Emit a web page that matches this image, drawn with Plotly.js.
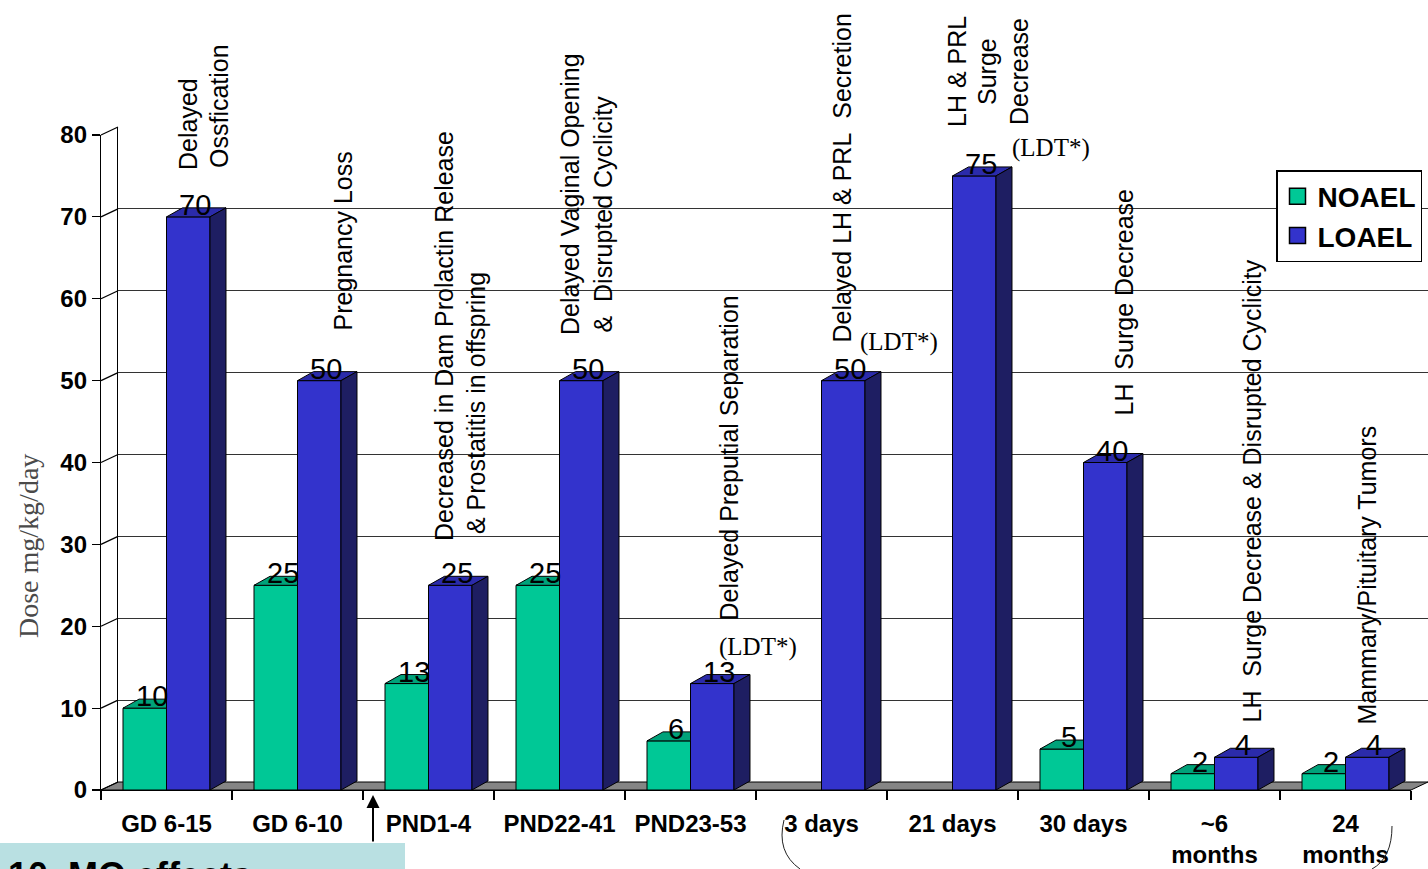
<!DOCTYPE html>
<html><head><meta charset="utf-8">
<script src="https://cdn.plot.ly/plotly-3.0.1.min.js"></script>
<style>html,body{margin:0;padding:0;background:#fff;overflow:hidden}#chart{width:1428px;height:869px}</style>
</head><body><div id="chart"></div>
<script>
// ---------- data ----------
const categories = ["GD 6-15","GD 6-10","PND1-4","PND22-41","PND23-53","3 days","21 days","30 days","~6<br>months","24<br>months"];
const noael = [10,25,13,25,6,null,null,5,2,2];
const loael = [70,50,25,50,13,50,75,40,4,4];
const yTicks = [0,10,20,30,40,50,60,70,80];
const seriesNames = ["NOAEL","LOAEL"];
const effectLines = [
  ["Delayed","Ossfication"],
  ["Pregnancy Loss"],
  ["Decreased in Dam Prolactin Release","& Prostatitis in offspring"],
  ["Delayed Vaginal Opening","&\u00a0 Disrupted Cyclicity"],
  ["Delayed Preputial Separation"],
  ["Delayed LH & PRL\u00a0 Secretion"],
  ["LH & PRL","Surge","Decrease"],
  ["LH\u00a0 Surge Decrease"],
  ["LH\u00a0 Surge Decrease & Disrupted Cyclicity"],
  ["Mammary/Pituitary Tumors"]
];
const ldtText = "(LDT*)";
const yTitle = "Dose mg/kg/day";
const footerText = "10. MO effects";

// ---------- layout geometry (pixels) ----------
const W = 1428, H = 869, ML = 101, MT = 127, MB = 79, MR = 0;
const PW = W - ML - MR, PH = H - MT - MB;
const fx = p => (p - ML) / PW;
const fy = p => (H - MB - p) / PH;
const frontRight = 1411, frontTop = 135, frontBottom = 790;
const depthX = 17, depthY = 8;
const unitX = (frontRight - ML) / categories.length;
const unitY = (frontBottom - frontTop) / 80;
const bargap = 0.336;
const half = (1 - bargap) / 2;
const dx = 16 / unitX, dy = 9 / unitY;

const colors = {
  noael: '#00C896', noaelTop: '#00A27A',
  loael: '#3333CC', loaelTop: '#2B2BAA', loaelSide: '#1E1E62'
};

const idx = categories.map((_, i) => i);

const traces = [
  {type:'scatter', x:[null], y:[null], xaxis:'x', yaxis:'y', showlegend:false, hoverinfo:'skip'},
  {type:'bar', name:seriesNames[0], x:idx, y:noael, xaxis:'x2', yaxis:'y2', showlegend:false,
   marker:{color:colors.noael, line:{color:'#000', width:1}}},
  {type:'bar', name:seriesNames[1], x:idx, y:loael, xaxis:'x2', yaxis:'y2', showlegend:false,
   marker:{color:colors.loael, line:{color:'#000', width:1}}},
  {type:'scatter', mode:'markers', name:seriesNames[0], x:[null], y:[null], xaxis:'x2', yaxis:'y2',
   marker:{symbol:'square', size:18, color:colors.noael, line:{color:'#000', width:1.5}}},
  {type:'scatter', mode:'markers', name:seriesNames[1], x:[null], y:[null], xaxis:'x2', yaxis:'y2',
   marker:{symbol:'square', size:18, color:colors.loael, line:{color:'#000', width:1.5}}}
];

const shapes = [];
// floor
shapes.push({type:'path', xref:'paper', yref:'paper', layer:'below',
  path:`M${fx(ML)},${fy(frontBottom)} L${fx(frontRight)},${fy(frontBottom)} L${fx(frontRight+depthX)},${fy(frontBottom-depthY)} L${fx(ML+depthX)},${fy(frontBottom-depthY)} Z`,
  fillcolor:'#858585', line:{color:'#000', width:1}});
// side wall diagonals
yTicks.forEach(v => {
  const yf = frontBottom - v * unitY;
  shapes.push({type:'line', xref:'paper', yref:'paper', x0:fx(ML), y0:fy(yf), x1:fx(ML+depthX), y1:fy(yf-depthY),
    line:{color:'#000', width:1.2}});
});
// 3D faces of the bars
idx.forEach(i => {
  const n = noael[i], l = loael[i];
  if (n !== null) {
    shapes.push({type:'path', xref:'x2', yref:'y2', layer:'above',
      path:`M${i-half},${n} L${i},${n} L${i},${n+dy} L${i-half+dx},${n+dy} Z`,
      fillcolor:colors.noaelTop, line:{color:'#000', width:1}});
  }
  if (l !== null) {
    shapes.push({type:'path', xref:'x2', yref:'y2', layer:'above',
      path:`M${i},${l} L${i+half},${l} L${i+half+dx},${l+dy} L${i+dx},${l+dy} Z`,
      fillcolor:colors.loaelTop, line:{color:'#000', width:1}});
    shapes.push({type:'path', xref:'x2', yref:'y2', layer:'above',
      path:`M${i+half},0 L${i+half},${l} L${i+half+dx},${l+dy} L${i+half+dx},${dy} Z`,
      fillcolor:colors.loaelSide, line:{color:'#000', width:1}});
  }
});
// footer box and curves
shapes.push({type:'rect', xref:'paper', yref:'paper', x0:fx(0), x1:fx(405), y0:fy(869), y1:fy(843),
  fillcolor:'#B9E0E2', line:{width:0}, layer:'above'});
shapes.push({type:'path', xref:'paper', yref:'paper',
  path:`M${fx(784)},${fy(820)} Q${fx(776)},${fy(852)} ${fx(800)},${fy(869)}`, line:{color:'#222', width:1}});
shapes.push({type:'path', xref:'paper', yref:'paper',
  path:`M${fx(1392)},${fy(826)} Q${fx(1392)},${fy(858)} ${fx(1372)},${fy(869)}`, line:{color:'#222', width:1}});

const annotations = [];
// value labels
idx.forEach(i => {
  [[noael, -half/2], [loael, half/2]].forEach(([arr, off]) => {
    const v = arr[i];
    if (v === null) return;
    annotations.push({x:i+off, y:v, xref:'x2', yref:'y2', text:String(v), showarrow:false,
      xshift:7, yshift:12, yanchor:'middle', font:{family:'Arial, Liberation Sans', size:29, color:'#000'}});
  });
});
// effect labels (pixel positions of each rotated line)
const effectPos = [
  {x:[188,219], y:[172,170], a:'bottom'},
  {x:[342], y:[333], a:'bottom'},
  {x:[444,476], y:[543,536], a:'bottom'},
  {x:[570,602], y:[337,335], a:'bottom'},
  {x:[728], y:[623], a:'bottom'},
  {x:[841], y:[345], a:'bottom'},
  {x:[957,987,1019], y:[72,72,72], a:'middle'},
  {x:[1123], y:[418], a:'bottom'},
  {x:[1251], y:[725], a:'bottom'},
  {x:[1366], y:[727], a:'bottom'}
];
effectLines.forEach((lines, i) => {
  lines.forEach((t, k) => {
    annotations.push({xref:'paper', yref:'paper', x:fx(effectPos[i].x[k]), y:fy(effectPos[i].y[k]),
      text:t, textangle:-90, showarrow:false, xanchor:'center', yanchor:effectPos[i].a,
      font:{family:'Arial, Liberation Sans', size:25, color:'#000'}});
  });
});
// LDT labels
[[717,647],[858,342],[1010,148]].forEach(([x,y]) => {
  annotations.push({xref:'paper', yref:'paper', x:fx(x), y:fy(y), text:ldtText, showarrow:false,
    xanchor:'left', yanchor:'middle', font:{family:'Liberation Serif, Times New Roman', size:25, color:'#000'}});
});
// y title
annotations.push({xref:'paper', yref:'paper', x:fx(28), y:fy(546), text:yTitle, textangle:-90, showarrow:false,
  xanchor:'center', yanchor:'middle', font:{family:'Liberation Serif, Times New Roman', size:28, color:'#4a4a4a'}});
// footer text (cut by the page edge, as in the reference)
annotations.push({xref:'paper', yref:'paper', x:fx(6), y:fy(853), text:'<b>'+footerText+'</b>', showarrow:false,
  xanchor:'left', yanchor:'top', font:{family:'Arial, Liberation Sans', size:36, color:'#000'}});
// arrow
annotations.push({xref:'paper', yref:'paper', x:fx(373), y:fy(795), text:'', showarrow:true, ax:0, ay:48,
  arrowhead:2, arrowsize:1.3, arrowwidth:2, arrowcolor:'#000', standoff:0});

const boldFont = (s) => ({family:'Arial, Liberation Sans', size:s, color:'#000', weight:'bold'});

const layout = {
  width:W, height:H, margin:{l:ML, r:MR, t:MT, b:MB},
  paper_bgcolor:'#fff', plot_bgcolor:'rgba(0,0,0,0)',
  barmode:'group', bargap:bargap, bargroupgap:0,
  showlegend:true,
  legend:{x:fx(1276), y:fy(170), xanchor:'left', yanchor:'top', bgcolor:'#fff', bordercolor:'#000', borderwidth:1.5,
    font:boldFont(28), tracegroupgap:0},
  xaxis:{domain:[fx(ML+depthX),1], range:[-0.5,9.5], visible:false, fixedrange:true, anchor:'y'},
  yaxis:{domain:[fy(frontBottom-depthY),1], range:[0,80], anchor:'x', tickvals:yTicks.slice(1), showticklabels:false, ticks:'',
    showgrid:true, gridcolor:'#333', gridwidth:1.2, zeroline:false, showline:true, linecolor:'#000', linewidth:1.2, fixedrange:true},
  xaxis2:{domain:[0,fx(frontRight)], range:[-0.5,9.5], anchor:'y2', tickmode:'array', tickvals:idx, ticktext:categories,
    ticks:'outside', ticklen:12, tickcolor:'rgba(0,0,0,0)',
    minor:{tickmode:'array', tickvals:idx.map(i=>i-0.5).concat([idx.length-0.5]), ticks:'outside', ticklen:9, tickcolor:'#000', tickwidth:1.2},
    showline:true, linecolor:'#000', linewidth:1.2, showgrid:false, zeroline:false, tickfont:boldFont(24), fixedrange:true},
  yaxis2:{domain:[0,fy(frontTop)], range:[0,80], anchor:'x2', tickmode:'array', tickvals:yTicks, ticks:'outside', ticklen:8,
    tickcolor:'#000', tickwidth:1.2, showline:true, linecolor:'#000', linewidth:1.2, showgrid:false, zeroline:false,
    tickfont:boldFont(24), fixedrange:true},
  shapes:shapes, annotations:annotations
};

Plotly.newPlot('chart', traces, layout, {displayModeBar:false, staticPlot:true});
</script></body></html>
